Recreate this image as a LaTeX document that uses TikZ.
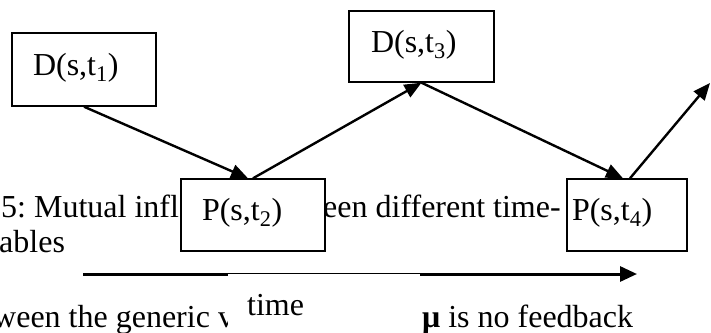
\documentclass[tikz,border=0pt]{standalone}
\usepackage{fontspec}
\setmainfont{Liberation Serif}
\usetikzlibrary{arrows.meta}
\frenchspacing
\tikzset{
  bgtext/.style={anchor=base west, inner sep=0pt},
  varbox/.style={draw, fill=white, line width=1.4pt, inner sep=0pt,
    text height=21pt, text depth=10pt, align=left},
  link/.style={line width=2.4pt, -{Triangle[length=17pt,width=14pt]}},
  axis/.style={line width=3pt, -{Triangle[length=17pt,width=15pt]}}
}
\begin{document}
\begin{tikzpicture}[x=1pt,y=-1pt, every node/.append style={font=\fontsize{32}{38}\selectfont}]
\useasboundingbox (0,0) rectangle (711,332);
% background document text (partly hidden)
\node[bgtext] (t1) at (1,217) {5: Mutual infl};
\node[bgtext] (t2) at (323,217) {een different time-};
\node[bgtext] (t3) at (-1,252) {ables};
\node[bgtext] (t4) at (-7,327) {ween the generic v};
% boxes
\node[varbox, minimum width=144pt, minimum height=73pt, text width=102pt] (D1) at (84,69.5) {D(s,t\textsubscript{1})};
\node[varbox, minimum width=145pt, minimum height=71pt, text width=101pt] (D3) at (421.5,46.5) {D(s,t\textsubscript{3})};
\node[varbox, minimum width=144pt, minimum height=72pt, text width=102pt] (P2) at (253,215) {P(s,t\textsubscript{2})};
\node[varbox, minimum width=120pt, minimum height=72pt, text width=110pt] (P4) at (627,215) {P(s,t\textsubscript{4})};
\coordinate (fb) at (710,83);
% connectors
\draw[link] (D1.south) -- ([xshift=-5pt]P2.north);
\draw[link] (P2.north) -- (D3.south);
\draw[link] (D3.south) -- ([xshift=-4pt]P4.north);
\draw[link] ([xshift=3pt]P4.north) -- (fb);
% time axis
\coordinate (a0) at (83,274);
\coordinate (a1) at (637,274);
\draw[axis] (a0) -- (a1);
\fill[white] (228,273.9) rectangle (420,340);
\node[bgtext] (time) at (247,315) {time};
\node[bgtext] (t5) at (422,327) {\textbf{μ} is no feedback};
\end{tikzpicture}
\end{document}
